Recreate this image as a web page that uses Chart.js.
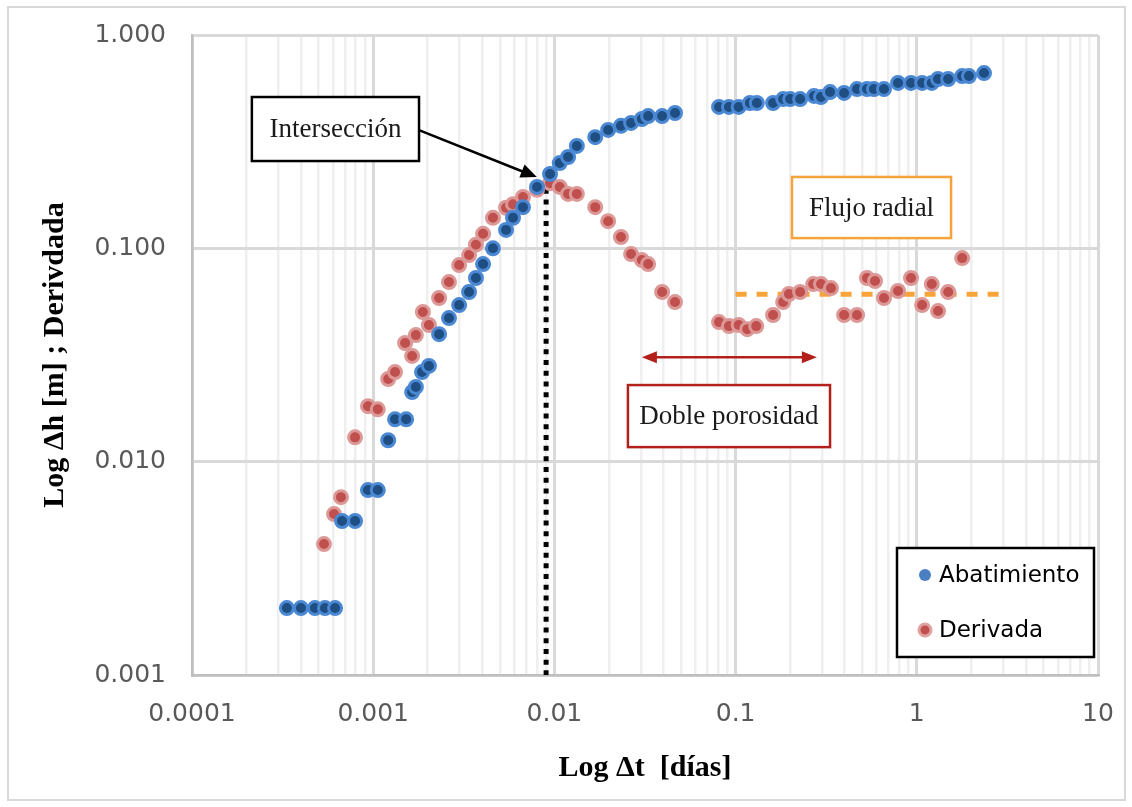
<!DOCTYPE html>
<html>
<head>
<meta charset="utf-8">
<script src="https://cdn.jsdelivr.net/npm/chart.js@4"></script>
<style>
  html, body { margin: 0; padding: 0; background: #fff; }
  #wrap { width: 1132px; height: 807px; }
</style>
</head>
<body>
<div id="wrap"><canvas id="grafico" width="1132" height="807"></canvas></div>
<script>
// Datos
const abatT = [0.000334, 0.000399, 0.000477, 0.000542, 0.000616, 0.000673, 0.000794, 0.000936, 0.00106, 0.00121,
  0.00132, 0.00152, 0.00164, 0.00172, 0.00186, 0.00203, 0.00231, 0.00262, 0.00298, 0.00338,
  0.00369, 0.00404, 0.00458, 0.00541, 0.00591, 0.00671, 0.00802, 0.00946, 0.0107, 0.0119,
  0.0133, 0.0168, 0.0198, 0.0233, 0.0265, 0.0304, 0.0329, 0.0393, 0.0463, 0.081,
  0.0919, 0.104, 0.120, 0.131, 0.161, 0.183, 0.200, 0.227, 0.271, 0.296,
  0.332, 0.397, 0.468, 0.531, 0.580, 0.659, 0.788, 0.929, 1.07, 1.21,
  1.31, 1.49, 1.78, 1.94, 2.35];
const abatH = [0.00206, 0.00206, 0.00206, 0.00206, 0.00206, 0.00527, 0.00527, 0.00736, 0.00736, 0.0126,
  0.0158, 0.0158, 0.0212, 0.0224, 0.0263, 0.0281, 0.0396, 0.0471, 0.0542, 0.0624,
  0.0726, 0.0844, 0.100, 0.122, 0.139, 0.156, 0.194, 0.223, 0.251, 0.268,
  0.302, 0.332, 0.359, 0.375, 0.387, 0.404, 0.417, 0.417, 0.431, 0.460,
  0.460, 0.460, 0.480, 0.480, 0.480, 0.501, 0.501, 0.501, 0.518, 0.512,
  0.540, 0.535, 0.558, 0.558, 0.558, 0.558, 0.596, 0.596, 0.596, 0.596,
  0.622, 0.622, 0.642, 0.642, 0.663];

const derivT = [0.000535, 0.000608, 0.000664, 0.000794, 0.000936, 0.00106, 0.00121, 0.00132, 0.00150, 0.00164,
  0.00172, 0.00188, 0.00203, 0.00231, 0.00262, 0.00298, 0.00338, 0.00369, 0.00404, 0.00458,
  0.00541, 0.00591, 0.00671, 0.00802, 0.00946, 0.0107, 0.0119, 0.0133, 0.0168, 0.0198,
  0.0233, 0.0265, 0.0304, 0.0329, 0.0393, 0.0463, 0.081, 0.0919, 0.104, 0.116,
  0.130, 0.161, 0.183, 0.197, 0.227, 0.268, 0.296, 0.336, 0.397, 0.468,
  0.531, 0.588, 0.659, 0.788, 0.929, 1.07, 1.21, 1.31, 1.49, 1.78];
const derivD = [0.00411, 0.00568, 0.00682, 0.0130, 0.0182, 0.0176, 0.0244, 0.0263, 0.0360, 0.0313,
  0.0392, 0.0503, 0.0437, 0.0585, 0.0695, 0.0835, 0.0930, 0.104, 0.117, 0.139,
  0.155, 0.161, 0.174, 0.188, 0.202, 0.194, 0.180, 0.180, 0.156, 0.134,
  0.113, 0.0940, 0.0881, 0.0844, 0.0624, 0.0560, 0.0451, 0.0432, 0.0437, 0.0418,
  0.0432, 0.0487, 0.0560, 0.0611, 0.0624, 0.0680, 0.0680, 0.0651, 0.0487, 0.0487,
  0.0726, 0.0703, 0.0585, 0.0631, 0.0726, 0.0542, 0.0680, 0.0508, 0.0624, 0.0900];

// Linea de interseccion y flujo radial
const corteT = [0.009, 0.009];
const corteH = [0.19, 0.001];
const flujoT = [0.1, 3];
const flujoD = [0.061, 0.061];

// Ejes
const xTicks = [0.0001, 0.001, 0.01, 0.1, 1, 10];
const xTickLabels = ['0.0001', '0.001', '0.01', '0.1', '1', '10'];
const yTicks = [0.001, 0.01, 0.1, 1];
const yTickLabels = ['0.001', '0.010', '0.100', '1.000'];

const pares = (xs, ys) => xs.map((v, i) => ({ x: v, y: ys[i] }));

const fuenteSans = '"DejaVu Sans", "Open Sans", sans-serif';
const fuenteSerif = '"Liberation Serif", "DejaVu Serif", serif';

// Sin relleno extra por las etiquetas: el area del grafico la fija layout.padding
function sinRelleno(s) {
  s.paddingTop = 0;
  s.paddingBottom = 0;
  s.paddingLeft = 0;
  s.paddingRight = 0;
}

// Fondo y marco exterior
const marco = {
  id: 'marco',
  beforeDraw(chart) {
    const { ctx } = chart;
    ctx.save();
    ctx.fillStyle = '#fff';
    ctx.fillRect(0, 0, chart.width, chart.height);
    ctx.strokeStyle = '#d9d9d9';
    ctx.lineWidth = 2;
    ctx.strokeRect(8, 7, 1117, 793);
    ctx.restore();
  }
};

function caja(ctx, x, y, t0, t1, h0, h1, texto, color) {
  const l = x.getPixelForValue(t0), r = x.getPixelForValue(t1);
  const t = y.getPixelForValue(h0), b = y.getPixelForValue(h1);
  ctx.fillStyle = '#fff';
  ctx.fillRect(l, t, r - l, b - t);
  ctx.strokeStyle = color;
  ctx.lineWidth = 2.5;
  ctx.strokeRect(l, t, r - l, b - t);
  ctx.fillStyle = '#1a1a1a';
  ctx.font = '27px ' + fuenteSerif;
  ctx.textAlign = 'center';
  ctx.textBaseline = 'middle';
  ctx.fillText(texto, (l + r) / 2, (t + b) / 2 + 1);
}

function punta(ctx, x0, y0, x1, y1, largo, ancho) {
  const ang = Math.atan2(y1 - y0, x1 - x0);
  ctx.beginPath();
  ctx.moveTo(x1, y1);
  ctx.lineTo(x1 - largo * Math.cos(ang) + ancho * Math.sin(ang), y1 - largo * Math.sin(ang) - ancho * Math.cos(ang));
  ctx.lineTo(x1 - largo * Math.cos(ang) - ancho * Math.sin(ang), y1 - largo * Math.sin(ang) + ancho * Math.cos(ang));
  ctx.closePath();
  ctx.fill();
}

// Anotaciones y leyenda
const anotaciones = {
  id: 'anotaciones',
  afterDraw(chart) {
    const { ctx, chartArea: area, scales: { x, y } } = chart;
    ctx.save();

    // Interseccion
    caja(ctx, x, y, 0.000214, 0.00179, 0.512, 0.2566, 'Intersección', '#000');
    const ax0 = x.getPixelForValue(0.00179), ay0 = y.getPixelForValue(0.3585);
    const ax1 = x.getPixelForValue(0.0080), ay1 = y.getPixelForValue(0.216);
    ctx.strokeStyle = '#000';
    ctx.fillStyle = '#000';
    ctx.lineWidth = 2.5;
    ctx.beginPath();
    ctx.moveTo(ax0, ay0);
    ctx.lineTo(ax1 - 8, ay1 - 3);
    ctx.stroke();
    punta(ctx, ax0, ay0, ax1, ay1, 16, 7);

    // Flujo radial
    caja(ctx, x, y, 0.2047, 1.545, 0.216, 0.1117, 'Flujo radial', '#f5a33b');

    // Doble porosidad
    const dx0 = x.getPixelForValue(0.0304), dx1 = x.getPixelForValue(0.281);
    const dy = y.getPixelForValue(0.0309);
    ctx.strokeStyle = '#b3201c';
    ctx.fillStyle = '#b3201c';
    ctx.lineWidth = 2.5;
    ctx.beginPath();
    ctx.moveTo(dx0 + 8, dy);
    ctx.lineTo(dx1 - 8, dy);
    ctx.stroke();
    punta(ctx, dx1, dy, dx0, dy, 15, 6);
    punta(ctx, dx0, dy, dx1, dy, 15, 6);
    caja(ctx, x, y, 0.02545, 0.332, 0.02286, 0.0117, 'Doble porosidad', '#b3201c');

    // Leyenda
    const lx = area.right - 201, ly = area.bottom - 127;
    ctx.fillStyle = '#fff';
    ctx.fillRect(lx, ly, 197, 109);
    ctx.strokeStyle = '#000';
    ctx.lineWidth = 2.5;
    ctx.strokeRect(lx, ly, 197, 109);
    const items = chart.data.datasets.filter(d => d.enLeyenda);
    items.forEach((d, i) => {
      const cy = ly + 27 + i * 55;
      ctx.beginPath();
      ctx.arc(lx + 28, cy, 6, 0, Math.PI * 2);
      ctx.fillStyle = d.leyendaRelleno;
      ctx.fill();
      if (d.leyendaBorde) {
        ctx.lineWidth = 3;
        ctx.strokeStyle = d.leyendaBorde;
        ctx.stroke();
      }
      ctx.fillStyle = '#000';
      ctx.font = '23px ' + fuenteSans;
      ctx.textAlign = 'left';
      ctx.textBaseline = 'middle';
      ctx.fillText(d.label, lx + 42, cy + 1);
    });

    ctx.restore();
  }
};

const ctx = document.getElementById('grafico').getContext('2d');

new Chart(ctx, {
  type: 'scatter',
  data: {
    datasets: [
      {
        label: 'Abatimiento',
        data: pares(abatT, abatH),
        backgroundColor: '#1f4e82',
        borderColor: '#4a88d4',
        borderWidth: 3,
        pointRadius: 6.5,
        order: 1,
        enLeyenda: true,
        leyendaRelleno: '#4a7fc4'
      },
      {
        label: 'Derivada',
        data: pares(derivT, derivD),
        backgroundColor: '#c0504d',
        borderColor: '#dc9896',
        borderWidth: 3,
        pointRadius: 6.5,
        order: 2,
        enLeyenda: true,
        leyendaRelleno: '#c0504d',
        leyendaBorde: '#e0a2a0'
      },
      {
        label: 'Corte',
        data: pares(corteT, corteH),
        showLine: true,
        borderColor: '#000',
        borderWidth: 5,
        borderDash: [5, 5.7],
        pointRadius: 0,
        order: 3
      },
      {
        label: 'Flujo',
        data: pares(flujoT, flujoD),
        showLine: true,
        borderColor: '#f7a43a',
        borderWidth: 5,
        borderDash: [11, 10],
        pointRadius: 0,
        order: 3
      }
    ]
  },
  options: {
    responsive: false,
    animation: false,
    layout: { padding: { left: 10, right: 34, top: 35, bottom: 10 } },
    plugins: {
      legend: { display: false },
      tooltip: { enabled: false }
    },
    scales: {
      x: {
        type: 'logarithmic',
        min: 0.0001,
        max: 10,
        afterBuildTicks: s => {
          const t = [];
          xTicks.forEach((v, i) => {
            if (i === xTicks.length - 1) { t.push({ value: v, major: true }); return; }
            for (let k = 1; k < 10; k++) t.push({ value: v * k, major: k === 1 });
          });
          s.ticks = t;
        },
        afterFit: s => { s.height = 122; sinRelleno(s); },
        ticks: {
          autoSkip: false,
          maxRotation: 0,
          padding: 24,
          color: '#595959',
          font: { family: fuenteSans, size: 25 },
          callback: function (v) {
            const i = xTicks.findIndex(t => Math.abs(t - v) / t < 1e-6);
            return i >= 0 ? xTickLabels[i] : '';
          }
        },
        grid: {
          drawTicks: false,
          color: c => (c.tick && c.tick.major ? '#d9d9d9' : '#efefef'),
          lineWidth: c => (c.tick && c.tick.major ? 3 : 2.5)
        },
        border: { color: '#bfbfbf', width: 2.5 },
        title: {
          display: true,
          text: 'Log Δt  [días]',
          color: '#000',
          font: { family: fuenteSerif, size: 30, weight: 'bold' },
          padding: { top: 0, bottom: 11 }
        }
      },
      y: {
        type: 'logarithmic',
        min: 0.001,
        max: 1,
        afterBuildTicks: s => {
          s.ticks = yTicks.map(v => ({ value: v, major: true }));
        },
        afterFit: s => { s.width = 182; sinRelleno(s); },
        ticks: {
          autoSkip: false,
          padding: 26,
          color: '#595959',
          font: { family: fuenteSans, size: 25 },
          callback: function (v) {
            const i = yTicks.findIndex(t => Math.abs(t - v) / t < 1e-6);
            return i >= 0 ? yTickLabels[i] : '';
          }
        },
        grid: {
          drawTicks: false,
          color: '#d9d9d9',
          lineWidth: 3
        },
        border: { color: '#bfbfbf', width: 2.5 },
        title: {
          display: true,
          text: 'Log Δh [m] ; Derivdada',
          color: '#000',
          font: { family: fuenteSerif, size: 30, weight: 'bold' },
          padding: { top: 27, bottom: 0 }
        }
      }
    }
  },
  plugins: [marco, anotaciones]
});
</script>
</body>
</html>
